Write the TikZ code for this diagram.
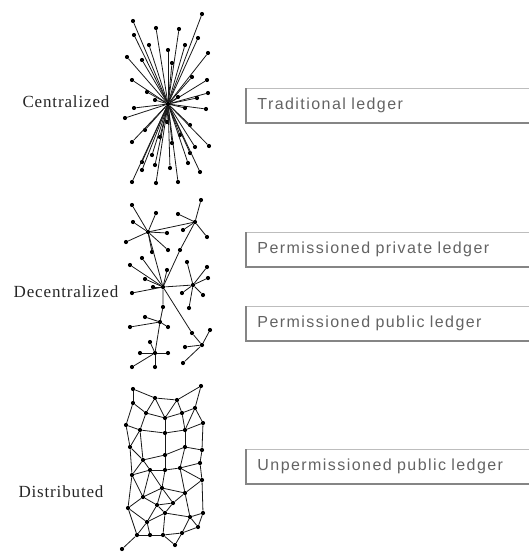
\documentclass[tikz,border=0pt]{standalone}
\usepackage{fontspec}
\setmainfont{Liberation Serif}
\newfontfamily\boxfont[LetterSpace=9]{Liberation Sans}
\newfontfamily\labelfont[LetterSpace=5]{Liberation Serif}
\definecolor{boxtext}{HTML}{636363}
\definecolor{boxedge}{HTML}{BDBDBD}
\definecolor{boxshade}{HTML}{858585}

\tikzset{
  dot/.style={circle,fill=black,inner sep=0pt,minimum size=4.2pt},
  link/.style={line width=0.8pt,black!90},
  kind/.style={font=\labelfont\fontsize{17}{20}\selectfont,text=black!85,inner sep=0pt},
  ledger/.style={draw=boxedge,line width=0.9pt,anchor=north west,minimum width=290pt,
    minimum height=34pt,text width=270pt,align=left,inner xsep=11pt,
    font=\boxfont\fontsize{16}{19}\selectfont,text=boxtext},
  shade/.style={draw=boxshade,line width=1.6pt}
}

\begin{document}
\begin{tikzpicture}[x=1pt,y=-1pt]
\useasboundingbox (0,0) rectangle (528,552);

% ---------- labels on the left ----------
\node[kind] (lc) at (66,102) {Centralized};
\node[kind] (ld) at (66,292) {Decentralized};
\node[kind] (lu) at (61,492) {Distributed};

% ---------- ledger boxes ----------
\node[ledger] (b1) at (246,88)  {Traditional ledger};
\node[ledger] (b2) at (246,232) {Permissioned private ledger};
\node[ledger] (b3) at (246,306) {Permissioned public ledger};
\node[ledger] (b4) at (246,449) {Unpermissioned public ledger};
\foreach \b in {b1,b2,b3,b4}
  \draw[shade] (\b.north west) -- (\b.south west) -- (\b.south east);

% ---------- centralized: one hub, many spokes ----------
\node[dot] (hub) at (168,104) {};
\foreach [count=\i] \p in {
  (133,21),(202,14),(156,28),(179,29),(134,35),(198,38),(149,45),(185,45),
  (168,50),(208,53),(127,57),(142,60),(172,63),(192,77),(132,80),(207,80),
  (147,92),(208,93),(155,100),(197,98),(134,108),(185,108),(206,109),(178,97),
  (167,122),(190,125),(145,130),(132,142),(160,137),(180,135),(172,143),(195,147),
  (209,146),(152,155),(190,153),(142,162),(155,165),(170,168),(188,163),(132,182),
  (156,183),(178,182),(142,170),(125,118),(200,172)}
{
  \node[dot] (c\i) at \p {};
  \draw[link] (hub) -- (c\i);
}

% ---------- decentralized: several hubs ----------
\node[dot] (hA) at (148,232) {};
\node[dot] (hB) at (195,222) {};
\node[dot] (hC) at (163,287) {};
\node[dot] (hD) at (193,285) {};
\node[dot] (hE) at (160,322) {};
\node[dot] (hF) at (155,353) {};
\node[dot] (hG) at (202,345) {};
\node[dot] (mBC) at (180,250) {};
\node[dot] (mCE) at (163,307) {};
\node[dot] (mCG) at (192,333) {};

\foreach [count=\i] \p in {(132,205),(156,213),(133,222),(126,242),(152,252),(167,233),(168,250)}
  {\node[dot] (a\i) at \p {}; \draw[link] (hA) -- (a\i);}
\foreach [count=\i] \p in {(201,200),(178,214),(183,230),(207,237)}
  {\node[dot] (bb\i) at \p {}; \draw[link] (hB) -- (bb\i);}
\foreach [count=\i] \p in {(130,265),(142,258),(167,270),(145,279),(153,287),(132,293)}
  {\node[dot] (cc\i) at \p {}; \draw[link] (hC) -- (cc\i);}
\foreach [count=\i] \p in {(187,262),(207,267),(208,278),(182,293),(203,295),(189,308)}
  {\node[dot] (dd\i) at \p {}; \draw[link] (hD) -- (dd\i);}
\foreach [count=\i] \p in {(145,317),(130,327),(168,327)}
  {\node[dot] (ee\i) at \p {}; \draw[link] (hE) -- (ee\i);}
\foreach [count=\i] \p in {(140,353),(168,353),(150,342),(132,367),(155,367)}
  {\node[dot] (ff\i) at \p {}; \draw[link] (hF) -- (ff\i);}
\foreach [count=\i] \p in {(210,330),(183,363),(185,347)}
  {\node[dot] (gg\i) at \p {}; \draw[link] (hG) -- (gg\i);}

\draw[link] (hA) -- (hB);
\draw[link] (hA) -- (hC);
\draw[link] (hB) -- (mBC) -- (hC);
\draw[link] (hC) -- (hD);
\draw[link] (hC) -- (mCE) -- (hE);
\draw[link] (hE) -- (hF);
\draw[link] (hC) -- (mCG) -- (hG);

% ---------- distributed: a mesh ----------
\foreach \n/\x/\y in {
  1/133/389,2/155/398,3/177/400,4/201/386,
  5/133/403,6/146/413,7/165/418,8/182/413,9/195/408,
  10/126/425,11/140/430,12/165/433,13/185/430,14/203/423,
  15/130/447,17/165/455,18/185/447,19/202/450,20/143/460,
  21/132/475,22/150/470,23/165/470,24/180/468,25/200/463,26/202/480,
  27/143/497,28/162/488,29/185/493,
  30/128/508,31/157/505,32/173/503,33/203/513,34/190/517,
  35/147/522,36/165/513,37/198/527,
  38/137/535,39/150/535,40/163/535,41/182/533,42/175/545,43/122/549}
  \node[dot] (m\n) at (\x,\y) {};

\foreach \u/\v in {
  1/2,2/3,3/4,1/5,2/6,2/7,3/7,3/8,4/9,5/6,6/7,7/8,8/9,9/14,
  5/10,6/11,10/11,11/12,7/12,12/13,8/13,13/14,9/13,
  10/15,11/15,11/20,12/17,13/18,14/19,18/19,15/20,20/17,17/18,
  15/21,20/21,20/22,22/23,17/23,23/24,18/24,24/25,19/25,25/26,24/26,21/22,
  21/27,22/27,22/28,23/28,28/29,24/29,26/29,26/33,27/28,
  21/30,27/30,27/31,28/31,31/32,28/32,32/29,29/34,34/33,
  30/35,31/35,31/36,32/36,36/34,34/37,33/37,35/36,
  35/38,35/39,36/40,39/40,38/39,40/41,41/37,34/41,40/42,41/42,38/43,30/38}
  \draw[link] (m\u) -- (m\v);

\end{tikzpicture}
\end{document}
